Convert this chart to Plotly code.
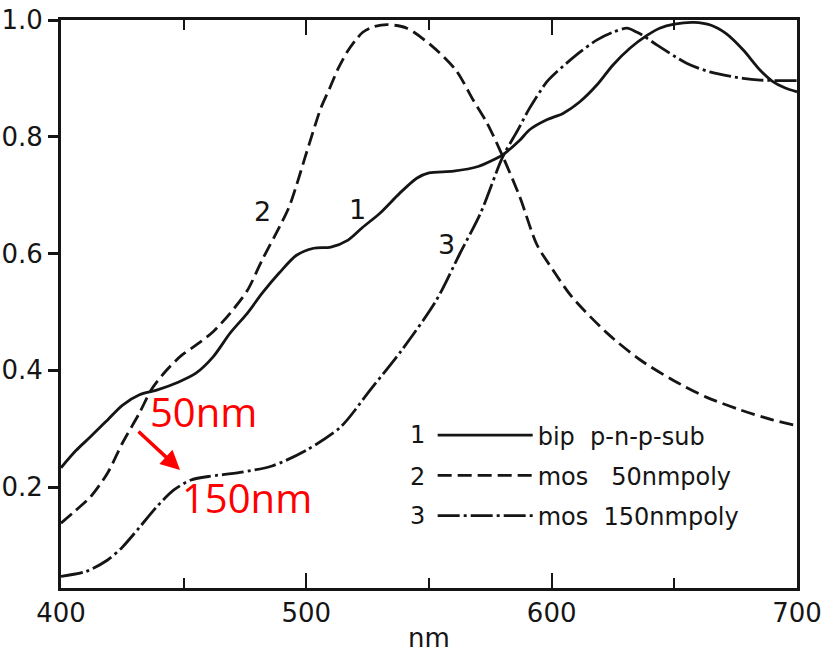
import plotly.graph_objects as go

# ---- data ----
x1 = [400, 406, 412, 419, 425, 432, 439, 448, 455, 462, 469, 476, 482, 489, 496, 503, 510, 517,
      523, 530, 538, 545, 550, 560, 570, 576, 580, 587, 591, 598, 604.6, 611.5, 618.5, 625, 632,
      639, 644, 650, 658, 665, 671, 678, 685, 690, 695, 700]
y1 = [0.233, 0.262, 0.286, 0.315, 0.340, 0.358, 0.366, 0.380, 0.395, 0.423, 0.464, 0.498, 0.532,
      0.567, 0.597, 0.609, 0.611, 0.623, 0.645, 0.669, 0.703, 0.729, 0.738, 0.741, 0.749, 0.760,
      0.769, 0.794, 0.812, 0.829, 0.840, 0.860, 0.889, 0.923, 0.952, 0.974, 0.986, 0.993, 0.996,
      0.991, 0.977, 0.949, 0.914, 0.895, 0.884, 0.877]

x2 = [400, 406, 412, 419, 425, 432, 437, 443, 449, 455, 462, 469, 476, 482, 489, 493, 496, 499.5,
      502.7, 506, 509.6, 513, 516.6, 520, 523, 527, 533, 541, 551.6, 561, 568, 573.6, 580, 587,
      594, 600.5, 608, 622.5, 636, 649.5, 663, 677, 690, 700]
y2 = [0.138, 0.160, 0.183, 0.224, 0.275, 0.327, 0.368, 0.400, 0.425, 0.443, 0.466, 0.498, 0.537,
      0.589, 0.645, 0.680, 0.717, 0.765, 0.808, 0.850, 0.884, 0.917, 0.945, 0.965, 0.979, 0.988,
      0.992, 0.986, 0.954, 0.914, 0.863, 0.824, 0.767, 0.697, 0.615, 0.572, 0.527, 0.464, 0.418,
      0.383, 0.354, 0.332, 0.315, 0.305]

x3 = [400, 410, 419, 425, 432, 439, 446, 453, 460, 473, 486, 500, 514, 526, 539, 553, 562.6, 571,
      580, 586, 591, 598, 602, 611.5, 618.5, 625, 630.7, 634.8, 637, 643, 655, 664.5, 678, 685, 700]
y3 = [0.047, 0.055, 0.075, 0.097, 0.131, 0.166, 0.195, 0.212, 0.218, 0.225, 0.236, 0.263, 0.303,
      0.366, 0.435, 0.520, 0.600, 0.669, 0.765, 0.810, 0.849, 0.894, 0.911, 0.945, 0.966, 0.979,
      0.986, 0.979, 0.974, 0.957, 0.926, 0.911, 0.900, 0.897, 0.896]

names = ["bip  p-n-p-sub", "mos   50nmpoly", "mos  150nmpoly"]
curve_ids = ["1", "2", "3"]
x_ticks = [400, 500, 600, 700]
y_ticks = [0.2, 0.4, 0.6, 0.8, 1.0]

INK = "#151515"
FONT = "DejaVu Sans"

fig = go.Figure()
styles = ["solid", "14px,6px", "22px,4px,3px,4px"]
for i, (xs, ys) in enumerate([(x1, y1), (x2, y2), (x3, y3)]):
    fig.add_trace(go.Scatter(
        x=xs, y=ys, mode="lines", name=names[i], legendgroup=curve_ids[i],
        line=dict(color=INK, width=2.8, dash=styles[i], shape="spline", smoothing=0.8),
        hoverinfo="skip"))

# curve number labels
for txt, xx, yy in [("2", 482, 0.672), ("1", 521, 0.675), ("3", 557, 0.615)]:
    fig.add_annotation(x=xx, y=yy, text=txt, showarrow=False,
                       font=dict(size=27, color=INK, family=FONT))

fig.update_layout(
    width=833, height=657,
    margin=dict(l=61, r=36, t=20, b=69, autoexpand=False),
    paper_bgcolor="white", plot_bgcolor="white",
    showlegend=True,
    legend=dict(x=0.505, y=0.308, xanchor="left", yanchor="top",
                bgcolor="rgba(0,0,0,0)", tracegroupgap=6, itemwidth=95,
                font=dict(size=24, color=INK, family=FONT)),
    font=dict(family=FONT, color=INK),
)

# legend row numbers (paper coords)
for txt, yy in [("1", 0.2694), ("2", 0.1954), ("3", 0.1268)]:
    fig.add_annotation(x=0.485, y=yy, xref="paper", yref="paper", text=txt,
                       xanchor="center", yanchor="middle",
                       showarrow=False, font=dict(size=24, color=INK, family=FONT))

fig.update_xaxes(
    range=[400, 700], tickvals=x_ticks, ticktext=[str(v) for v in x_ticks],
    ticks="inside", ticklen=15, tickwidth=2, tickcolor=INK,
    minor=dict(dtick=50, tick0=400, ticks="inside", ticklen=10, tickwidth=2, tickcolor=INK),
    showline=True, linewidth=2.8, linecolor=INK, mirror="ticks",
    showgrid=False, zeroline=False, automargin=False,
    tickfont=dict(size=26, color=INK, family=FONT),
    title=dict(text="nm", font=dict(size=26, color=INK, family=FONT), standoff=2),
)
fig.update_yaxes(
    range=[0.027, 1.0], tickvals=y_ticks, ticktext=[f"{v:.1f}" for v in y_ticks],
    ticks="outside", ticklen=10, tickwidth=2.5, tickcolor=INK,
    showline=True, linewidth=2.8, linecolor=INK, mirror=True,
    showgrid=False, zeroline=False, automargin=False,
    tickfont=dict(size=26, color=INK, family=FONT),
)

# red overlay annotation
fig.add_annotation(x=0.118, y=0.310, xref="paper", yref="paper", text="50nm",
                   showarrow=False, xanchor="left", yanchor="middle",
                   font=dict(size=40, color="#ff0000", family="Open Sans"))
fig.add_annotation(x=0.162, y=0.160, xref="paper", yref="paper", text="150nm",
                   showarrow=False, xanchor="left", yanchor="middle",
                   font=dict(size=40, color="#ff0000", family="Open Sans"))
fig.add_annotation(x=0.1617, y=0.2077, xref="paper", yref="paper",
                   ax=-43, ay=-40, axref="pixel", ayref="pixel",
                   text="", showarrow=True, arrowhead=2, arrowsize=1.1, arrowwidth=3.5,
                   arrowcolor="#ff0000")

fig.write_html("out.html", config={"displayModeBar": False},
               post_script="document.body.style.margin='0';document.body.style.overflow='hidden';")
